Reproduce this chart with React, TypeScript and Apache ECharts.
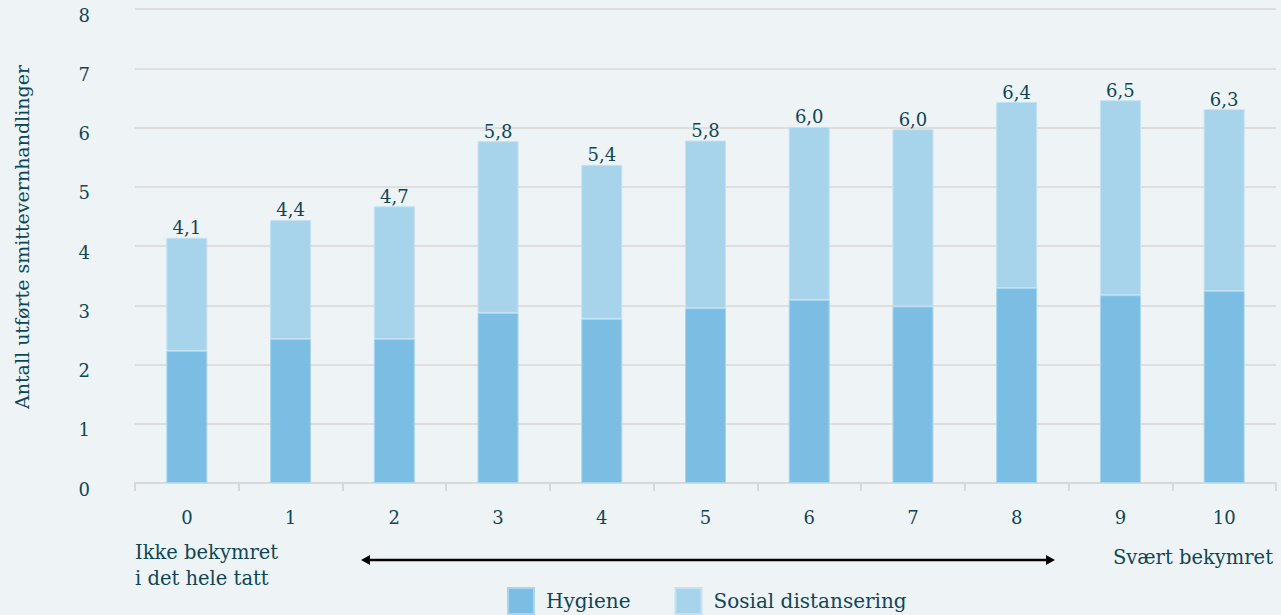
import React, { useEffect, useRef } from "react";
import * as echarts from "echarts";

const categories = ["0", "1", "2", "3", "4", "5", "6", "7", "8", "9", "10"];
const hygiene = [2.23, 2.43, 2.43, 2.87, 2.77, 2.95, 3.09, 2.98, 3.29, 3.17, 3.24];
const sosial = [1.91, 2.01, 2.24, 2.9, 2.6, 2.83, 2.92, 2.99, 3.14, 3.29, 3.07];
const yTicks = [0, 1, 2, 3, 4, 5, 6, 7, 8];
const seriesNames = ["Hygiene", "Sosial distansering"];
const yTitle = "Antall utførte smittevernhandlinger";
const leftNote = "Ikke bekymret\ni det hele tatt";
const rightNote = "Svært bekymret";

const TEXT = "#0f4656";
const FONT = "DejaVu Serif";

export default function App() {
  const ref = useRef<HTMLDivElement>(null);
  useEffect(() => {
    if (!ref.current) return;
    const chart = echarts.init(ref.current, undefined, { renderer: "svg" });
    const totals = hygiene.map((h, i) => h + sosial[i]);
    chart.setOption({
      animation: false,
      backgroundColor: "#eef3f6",
      textStyle: { fontFamily: FONT, color: TEXT },
      grid: { left: 135, right: 5, top: 9, bottom: 132 },
      legend: {
        data: seriesNames,
        left: 507,
        top: 587,
        padding: 0,
        icon: "rect",
        itemWidth: 26,
        itemHeight: 26,
        itemGap: 44,
        textStyle: { fontFamily: FONT, color: TEXT, fontSize: 20, padding: [0, 0, 0, 7] },
      },
      xAxis: {
        type: "category",
        data: categories,
        axisLine: { lineStyle: { color: "#d9d9d9", width: 2 } },
        axisTick: { show: true, length: 8, lineStyle: { color: "#d9d9d9", width: 2 } },
        axisLabel: { fontFamily: FONT, color: TEXT, fontSize: 18, margin: 25 },
      },
      yAxis: {
        type: "value",
        min: yTicks[0],
        max: yTicks[yTicks.length - 1],
        interval: 1,
        axisLine: { show: false },
        axisTick: { show: false },
        axisLabel: {
          fontFamily: FONT,
          color: TEXT,
          fontSize: 18,
          margin: 45,
          formatter: (v: number) => `{a|${v}}`,
          rich: { a: { fontFamily: FONT, color: TEXT, fontSize: 18, padding: [12, 0, 0, 0] } },
        },
        splitLine: { lineStyle: { color: "#dedede", width: 2 } },
      },
      series: [
        {
          name: seriesNames[0],
          type: "bar",
          stack: "t",
          barWidth: 41,
          data: hygiene,
          itemStyle: { color: "#7bbde3", borderColor: "#a9d6ef", borderWidth: 1 },
        },
        {
          name: seriesNames[1],
          type: "bar",
          stack: "t",
          barWidth: 41,
          data: sosial,
          itemStyle: { color: "#a8d4eb", borderColor: "#c3e2f3", borderWidth: 1 },
          label: {
            show: true,
            position: "top",
            distance: 1,
            fontFamily: FONT,
            fontSize: 18,
            color: TEXT,
            formatter: (p: any) => totals[p.dataIndex].toFixed(1).replace(".", ","),
          },
        },
      ],
      graphic: [
        {
          type: "text",
          x: 22,
          y: 237,
          rotation: Math.PI / 2,
          style: {
            text: yTitle,
            fontFamily: FONT,
            fontSize: 19,
            fill: TEXT,
            align: "center",
            verticalAlign: "middle",
          },
        },
        {
          type: "text",
          x: 135,
          y: 565,
          style: {
            text: leftNote,
            fontFamily: FONT,
            fontSize: 19.5,
            lineHeight: 26,
            fill: TEXT,
            align: "left",
            verticalAlign: "middle",
          },
        },
        {
          type: "text",
          x: 1273,
          y: 557,
          style: {
            text: rightNote,
            fontFamily: FONT,
            fontSize: 19.5,
            fill: TEXT,
            align: "right",
            verticalAlign: "middle",
          },
        },
        {
          type: "line",
          shape: { x1: 368, y1: 560, x2: 1048, y2: 560 },
          style: { stroke: "#000", lineWidth: 2.5 },
        },
        {
          type: "polygon",
          shape: { points: [[361, 560], [370, 555], [370, 565]] },
          style: { fill: "#000" },
        },
        {
          type: "polygon",
          shape: { points: [[1055, 560], [1046, 555], [1046, 565]] },
          style: { fill: "#000" },
        },
      ],
    });
    return () => chart.dispose();
  }, []);
  return (
    <div
      ref={ref}
      style={{ position: "fixed", left: 0, top: 0, width: 1281, height: 615 }}
    />
  );
}
